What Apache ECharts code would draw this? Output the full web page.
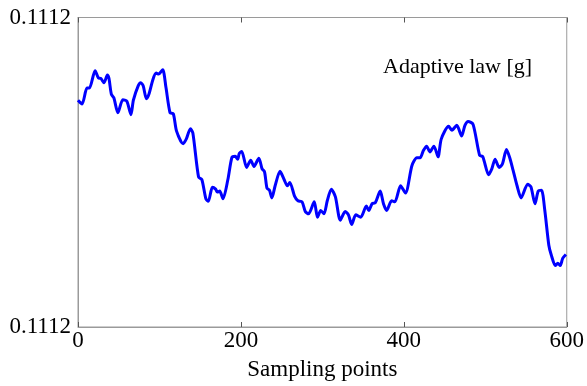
<!DOCTYPE html>
<html><head><meta charset="utf-8">
<script src="https://cdn.jsdelivr.net/npm/echarts@6/dist/echarts.min.js"></script>
<style>html,body{margin:0;padding:0;background:#fff}#c{width:587px;height:386px}</style>
</head><body><div id="c"></div>
<script>
const samplingPoints = [0,5,11,14,21,25,28,32,36,38,41,44,49,55,60,65,68,74,77,80,84,87,92,96,99,104,108,113,117,121,129,133,138,141,148,152,157,160,165,169,171,174,178,184,189,193,196,198,201,207,212,216,222,226,229,232,235,238,242,248,253,257,260,266,270,275,279,283,290,294,298,302,306,311,316,322,328,332,336,341,347,354,357,361,365,371,375,379,385,389,396,402,410,416,420,424,428,432,437,442,446,455,459,465,471,475,479,485,493,497,504,508,512,517,521,526,530,534,539,544,552,556,561,565,569,573,578,581,586,589,592,595,599];
const adaptiveLaw = [0.1112169,0.1112161,0.1112194,0.1112194,0.1112230,0.1112215,0.1112214,0.1112205,0.1112221,0.1112214,0.1112181,0.1112174,0.1112143,0.1112170,0.1112167,0.1112139,0.1112169,0.1112199,0.1112205,0.1112199,0.1112172,0.1112181,0.1112212,0.1112225,0.1112223,0.1112232,0.1112195,0.1112143,0.1112141,0.1112105,0.1112079,0.1112089,0.1112110,0.1112101,0.1112010,0.1112005,0.1111965,0.1111960,0.1111989,0.1111985,0.1111979,0.1111981,0.1111965,0.1112005,0.1112051,0.1112053,0.1112047,0.1112059,0.1112063,0.1112030,0.1112045,0.1112032,0.1112049,0.1112027,0.1112021,0.1111987,0.1111983,0.1111967,0.1111992,0.1112022,0.1112005,0.1111992,0.1111999,0.1111970,0.1111961,0.1111959,0.1111939,0.1111934,0.1111959,0.1111927,0.1111941,0.1111934,0.1111961,0.1111985,0.1111969,0.1111921,0.1111939,0.1111932,0.1111912,0.1111932,0.1111927,0.1111950,0.1111941,0.1111955,0.1111957,0.1111981,0.1111955,0.1111941,0.1111961,0.1111959,0.1111992,0.1111977,0.1112034,0.1112050,0.1112050,0.1112065,0.1112074,0.1112062,0.1112074,0.1112052,0.1112089,0.1112115,0.1112107,0.1112117,0.1112095,0.1112117,0.1112125,0.1112119,0.1112055,0.1112052,0.1112015,0.1112027,0.1112047,0.1112030,0.1112037,0.1112067,0.1112050,0.1112025,0.1111992,0.1111967,0.1111995,0.1111990,0.1111955,0.1111981,0.1111983,0.1111942,0.1111869,0.1111849,0.1111827,0.1111832,0.1111827,0.1111842,0.1111850];
const xTicks = [0, 200, 400, 600];
const yMin = 0.11117, yMax = 0.111234;
const yTickLabel = '0.1112';
const legendText = 'Adaptive law [g]';
const xName = 'Sampling points';

const chart = echarts.init(document.getElementById('c'));
const font = 'Liberation Serif';
const data = samplingPoints.map((x, i) => [x, adaptiveLaw[i]]);
chart.setOption({
  animation: false,
  backgroundColor: '#fff',
  grid: {left: 78, top: 17.5, right: 18, bottom: 48, show: true, borderColor: '#9a9a9a', borderWidth: 1, containLabel: false},
  xAxis: [{
    type: 'value', min: xTicks[0], max: xTicks[xTicks.length - 1], interval: xTicks[1] - xTicks[0], position: 'bottom',
    axisLine: {show: true, lineStyle: {color: '#9a9a9a', width: 1}},
    axisTick: {show: true, inside: true, length: 5, lineStyle: {color: '#555'}},
    splitLine: {show: false},
    axisLabel: {color: '#000', fontFamily: font, fontSize: 23, margin: 2},
    name: xName, nameLocation: 'middle', nameGap: 31,
    nameTextStyle: {color: '#000', fontFamily: font, fontSize: 23}
  }, {
    type: 'value', min: xTicks[0], max: xTicks[xTicks.length - 1], interval: xTicks[1] - xTicks[0], position: 'top',
    axisLine: {show: true, lineStyle: {color: '#9a9a9a', width: 1}},
    axisTick: {show: true, inside: true, length: 5, lineStyle: {color: '#555'}},
    splitLine: {show: false}, axisLabel: {show: false}
  }],
  yAxis: {
    type: 'value', min: yMin, max: yMax,
    axisLine: {show: true, lineStyle: {color: '#9a9a9a', width: 1}},
    axisTick: {show: false},
    splitLine: {show: false},
    axisLabel: {color: '#000', fontFamily: font, fontSize: 23, margin: 7,
      customValues: [yMin, yMax], formatter: () => yTickLabel}
  },
  graphic: [{type: 'text', left: 383, top: 56, style: {text: legendText, fontFamily: font, fontSize: 22, fill: '#000'}}],
  series: [{
    type: 'line', xAxisIndex: 0, data: data, showSymbol: false, smooth: 0.25,
    lineStyle: {color: '#0000ff', width: 3}
  }]
});
</script></body></html>
